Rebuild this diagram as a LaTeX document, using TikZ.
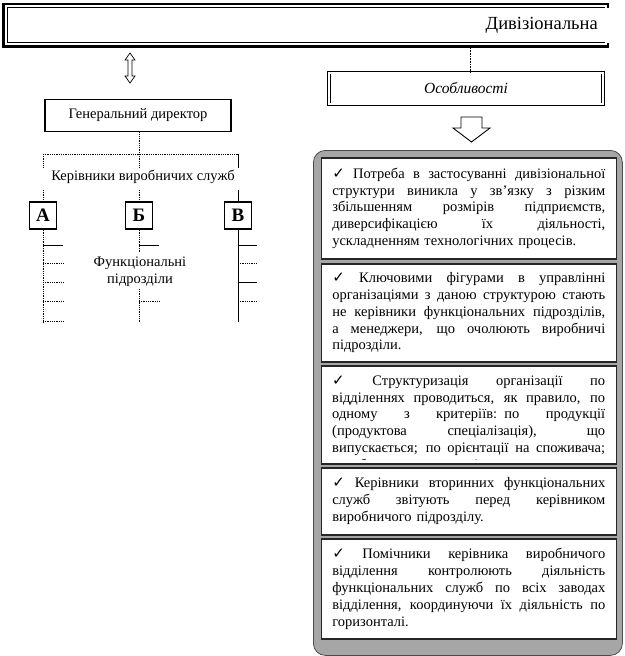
\documentclass[tikz,border=0pt]{standalone}
\usepackage{fontspec}
\setmainfont{Liberation Serif}
\newfontfamily\symf{DejaVu Sans}
\newlength\bw
\setlength\bw{273pt}
\newcommand\jl[1]{\leavevmode\hbox to \bw{\spaceskip=0.25em plus 4em minus 0.05em\relax #1}\\}
\newcommand\ck{{\symf\fontsize{15}{15}\selectfont ✓}}
\begin{document}
\begin{tikzpicture}[x=1pt,y=-1pt,
  txt/.style={inner sep=0pt, font=\fontsize{14.5}{17}\selectfont},
  btxt/.style={inner sep=0pt, align=left, text width=\bw, font=\fontsize{14.5}{16.8}\selectfont},
  ibox/.style={draw=black!85, line width=1.6pt, fill=white, minimum width=295pt, anchor=north west, inner sep=0pt},
  lbox/.style={draw=black, line width=1.5pt, fill=white, minimum width=27pt, minimum height=27pt, inner sep=0pt, font=\fontsize{19}{19}\selectfont\bfseries},
  dotln/.style={densely dotted, line width=0.8pt},
  solidln/.style={line width=0.8pt},
]
\useasboundingbox (0,0) rectangle (624,656);
% banner
\draw[line width=2.4pt] (608,8) -- (608,4) -- (3.5,4) -- (3.5,46.5) -- (608,46.5) -- (608,42.5);
\draw[line width=0.9pt] (605,7.5) -- (7.5,7.5) -- (7.5,42.5) -- (605,42.5);
\node[inner sep=0pt, font=\fontsize{18.5}{20}\selectfont, anchor=east] (title) at (598,25) {Дивізіональна};
% up-down arrow
\draw[line width=0.7pt, fill=white] (130,53) -- (135,60) -- (132,60) -- (132,76) -- (135,76) -- (130,83) -- (125,76) -- (128,76) -- (128,60) -- (125,60) -- cycle;
% right side
\node[draw, double, double distance=2.2pt, line width=0.6pt, minimum width=274pt, minimum height=31.5pt, inner sep=0pt, font=\fontsize{15.5}{17}\selectfont\itshape] (osob) at (466,88.5) {Особливості};
\coordinate (bt) at (470,48);
\draw[densely dotted, line width=0.6pt] (bt) -- (bt |- osob.north);
\draw[line width=0.9pt, fill=white] (461,117) -- (482,117) -- (482,128) -- (490,128) -- (471.5,142) -- (453,128) -- (461,128) -- cycle;
\node[draw=black!70, line width=0.8pt, fill=black!35, rounded corners=12pt, minimum width=309pt, minimum height=505pt, anchor=north west, inner sep=0pt] (big) at (313,150) {};
\node[ibox, minimum height=101pt] (b1) at (320.5,157) {};
\node[ibox, minimum height=98pt] (b2) at (320.5,263) {};
\node[ibox, minimum height=98pt] (b3) at (320.5,365) {};
\node[ibox, minimum height=67pt] (b4) at (320.5,467) {};
\node[ibox, minimum height=100pt] (b5) at (320.5,538) {};
\node[btxt] (t1) at (b1.center) {\jl{\ck{} Потреба в застосуванні дивізіональної}\jl{структури виникла у зв\char"27 язку з різким}\jl{збільшенням розмірів підприємств,}\jl{диверсифікацією їх діяльності,}ускладненням технологічних процесів.};
\node[btxt] (t2) at (b2.center) {\jl{\ck{} Ключовими фігурами в управлінні}\jl{організаціями з даною структурою стають}\jl{не керівники функціональних підрозділів,}\jl{а менеджери, що очолюють виробничі}підрозділи.};
\begin{scope}
\clip (321,366) rectangle (615,459);
\node[btxt, anchor=north west] (t3) at (332,375.5) {\jl{\ck{} Структуризація організації по}\jl{відділеннях проводиться, як правило, по}\jl{одному з критеріїв: по продукції}\jl{(продуктова спеціалізація), що}\jl{випускається; по орієнтації на споживача;}по обслуговуваних регіонах.};
\end{scope}
\node[btxt] (t4) at (b4.center) {\jl{\ck{} Керівники вторинних функціональних}\jl{служб звітують перед керівником}виробничого підрозділу.};
\node[btxt] (t5) at (b5.center) {\jl{\ck{} Помічники керівника виробничого}\jl{відділення контролюють діяльність}\jl{функціональних служб по всіх заводах}\jl{відділення, координуючи їх діяльність по}горизонталі.};
% left side
\node[draw, line width=1.6pt, minimum width=186pt, minimum height=32pt, txt] (gd) at (138,115.5) {Генеральний директор};
\coordinate (hl) at (43,154);
\coordinate (hm) at (139,154);
\coordinate (hr) at (238,154);
\draw[dotln] (gd.south -| hm) -- (hm);
\draw[dotln] (hl) -- (hr);
\draw[dotln] (hl) -- (43,168);
\draw[dotln] (hm) -- (139,168);
\draw[solidln] (hr) -- (238,168);
\node[txt] (kvs) at (143,177) {Керівники виробничих служб};
\node[lbox] (A) at (43,215.5) {А};
\node[lbox] (B) at (139,215.5) {Б};
\node[lbox] (V) at (238,215.5) {В};
\draw[dotln] (43,190) -- (A.north);
\draw[dotln] (139,190) -- (B.north);
\draw[solidln] (238,190) -- (V.north);
\coordinate (ae) at (43,322);
\coordinate (be1) at (139,253);
\coordinate (bs2) at (139,289);
\coordinate (be) at (139,322);
\coordinate (ve) at (238,322);
\draw[dotln] (A.south) -- (ae);
\draw[dotln] (B.south) -- (be1);
\draw[dotln] (bs2) -- (be);
\draw[solidln] (V.south) -- (ve);
\foreach \y/\s in {245/solidln,263/dotln,282/dotln,301/dotln,321/dotln} \draw[\s] (43,\y) -- (63,\y);
\foreach \y/\s in {245/solidln,301/dotln} \draw[\s] (139,\y) -- (159,\y);
\foreach \y/\s in {245/solidln,263/dotln,282/solidln,301/dotln} \draw[\s] (238,\y) -- (257,\y);
\node[txt, align=center] (fp) at (140,271.5) {Функціональні\\підрозділи};
\end{tikzpicture}
\end{document}
